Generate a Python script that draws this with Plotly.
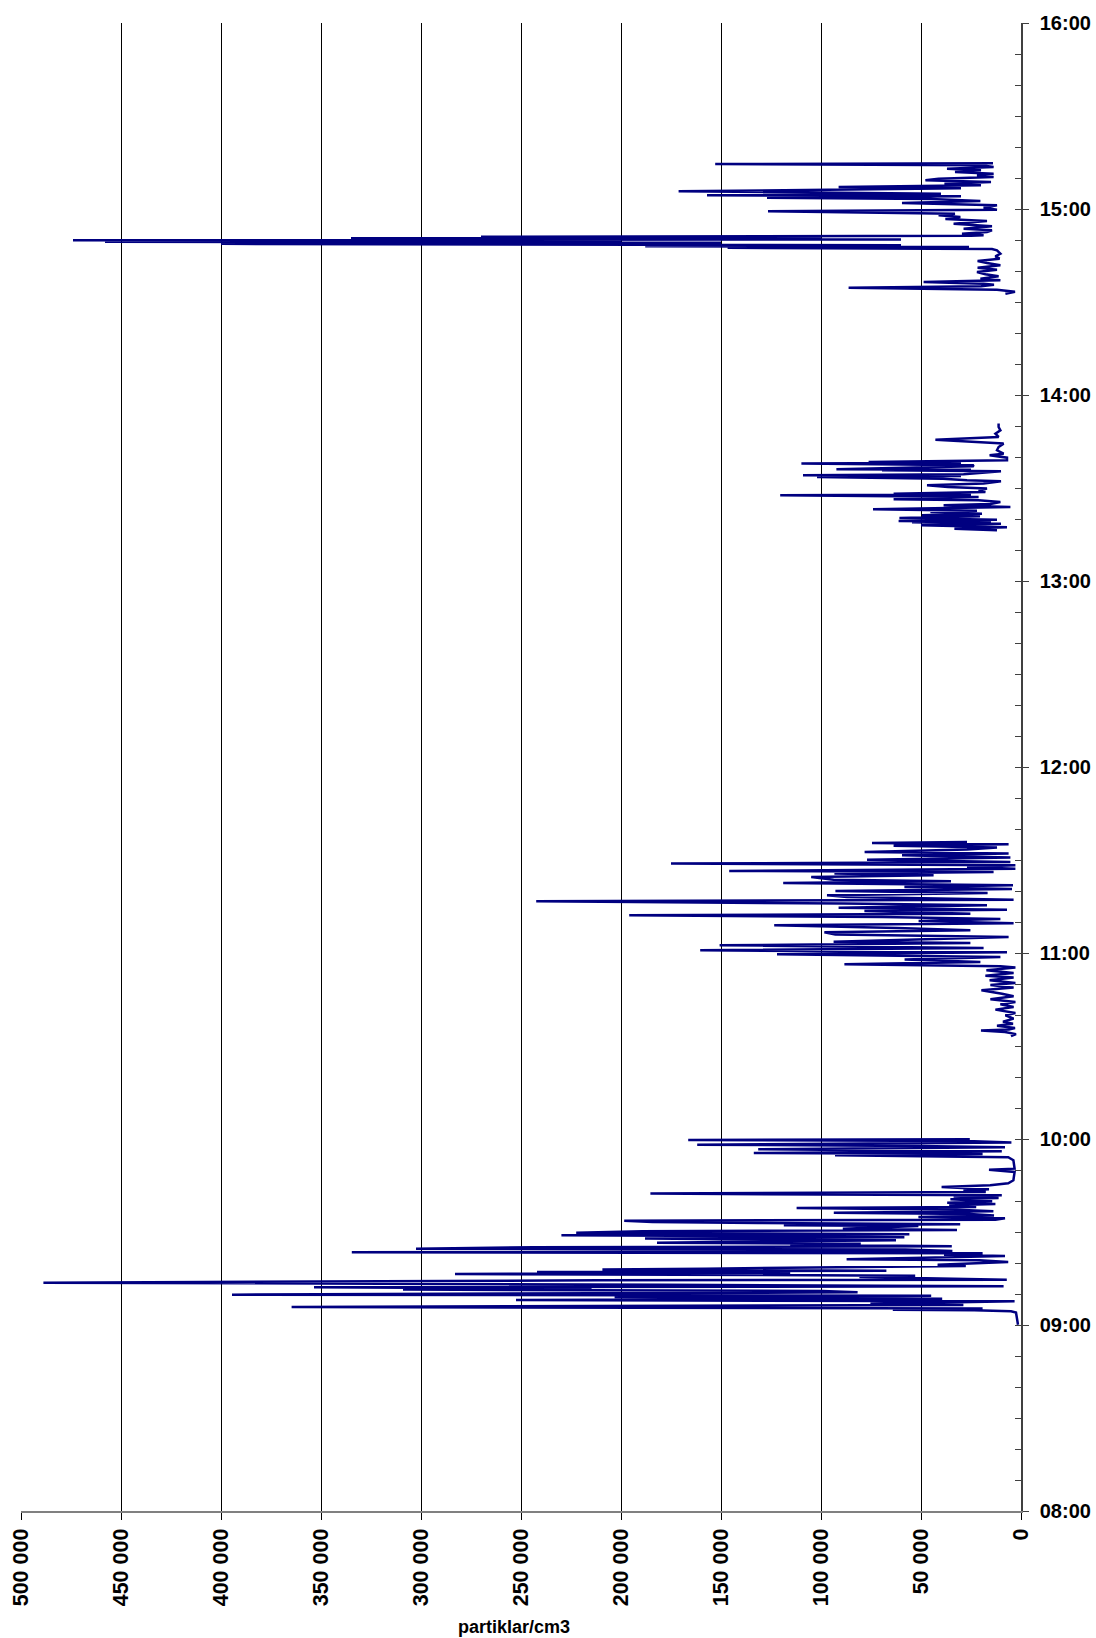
import plotly.graph_objects as go

DAY = "2000-01-01 "

# Particle concentration (partiklar/cm3), (time, value)
seg_0900 = [
    ("09:00:05", 1500), ("09:04:00", 2500), ("09:04:24", 5000), ("09:04:44", 23400),
    ("09:04:57", 64100), ("09:05:17", 19200), ("09:05:49", 364700), ("09:06:08", 110600),
    ("09:06:28", 28800), ("09:06:53", 75300), ("09:07:13", 38500), ("09:07:38", 3200),
    ("09:08:04", 252500), ("09:08:30", 39400), ("09:09:02", 203200), ("09:09:28", 44900),
    ("09:09:47", 394500), ("09:10:13", 239700), ("09:10:33", 81700), ("09:10:59", 99400),
    ("09:11:25", 309000), ("09:11:44", 214700), ("09:12:10", 353500), ("09:12:29", 8700),
    ("09:13:01", 179500), ("09:13:40", 488800), ("09:14:06", 326600), ("09:14:25", 211500),
    ("09:14:38", 7100), ("09:15:10", 52900), ("09:15:29", 80800), ("09:15:55", 52900),
    ("09:16:28", 283000), ("09:16:47", 115400), ("09:17:07", 242000), ("09:17:32", 67300),
    ("09:17:52", 209300), ("09:18:11", 158000), ("09:18:37", 82000), ("09:19:02", 27600),
    ("09:19:28", 41700), ("09:19:54", 27200), ("09:20:20", 6400), ("09:20:52", 20800),
    ("09:21:11", 87200), ("09:21:44", 48700), ("09:22:16", 8000), ("09:22:42", 38500),
    ("09:23:08", 19200), ("09:23:27", 334600), ("09:23:53", 34300), ("09:24:19", 57700),
    ("09:24:38", 302500), ("09:25:04", 243600), ("09:25:23", 34600), ("09:25:55", 115400),
    ("09:26:15", 80100), ("09:26:34", 182000), ("09:27:00", 83300), ("09:27:19", 62500),
    ("09:27:52", 188000), ("09:28:17", 58300), ("09:28:43", 147400), ("09:28:56", 229800),
    ("09:29:16", 55800), ("09:29:47", 222400), ("09:30:14", 189400), ("09:30:39", 32000),
    ("09:31:05", 89100), ("09:31:37", 67300), ("09:31:58", 51300), ("09:32:10", 118600),
    ("09:32:29", 30400), ("09:32:55", 131400), ("09:33:14", 184300), ("09:33:40", 198400),
    ("09:33:59", 12800), ("09:34:25", 8000), ("09:34:51", 51300), ("09:35:17", 13500),
    ("09:35:49", 25600), ("09:36:15", 93600), ("09:36:41", 13800), ("09:37:13", 32000),
    ("09:37:45", 112200), ("09:38:05", 22400), ("09:38:37", 35900), ("09:39:02", 12800),
    ("09:39:28", 36900), ("09:39:54", 14400), ("09:40:33", 35300), ("09:40:59", 11200),
    ("09:41:25", 33700), ("09:41:50", 9600), ("09:42:23", 185300), ("09:42:55", 17600),
    ("09:43:20", 28800), ("09:43:46", 16000), ("09:44:32", 39700), ("09:45:04", 15400),
    ("09:45:43", 6400), ("09:46:41", 3800), ("09:49:22", 3200), ("09:50:07", 16000),
    ("09:50:26", 3200), ("09:53:08", 3800), ("09:54:06", 6400), ("09:54:44", 93000),
    ("09:55:10", 19200), ("09:55:30", 133600), ("09:56:02", 9600), ("09:56:41", 131400),
    ("09:57:19", 8000), ("09:57:45", 51300), ("09:58:11", 161900), ("09:58:50", 4800),
    ("09:59:22", 27200), ("09:59:41", 166400), ("09:59:54", 25600),
]

seg_1033 = [
    ("10:33:10", 5000), ("10:33:50", 2500), ("10:34:30", 8000), ("10:35:00", 20000),
    ("10:35:20", 6000), ("10:35:50", 3000), ("10:36:30", 12000), ("10:37:10", 4000),
    ("10:37:50", 9000), ("10:38:50", 3700), ("10:39:55", 7800), ("10:40:40", 2800),
    ("10:41:44", 12800), ("10:42:35", 3700), ("10:43:27", 10300), ("10:44:13", 2800),
    ("10:45:04", 15300), ("10:46:02", 3700), ("10:46:53", 9500), ("10:47:58", 19800),
    ("10:48:50", 3700), ("10:49:41", 15300), ("10:50:20", 2800), ("10:51:12", 15700),
    ("10:52:04", 3700), ("10:52:42", 17800), ("10:53:34", 3700), ("10:54:25", 17300),
    ("10:55:17", 2800), ("10:55:43", 10300), ("10:56:22", 88300), ("10:57:07", 20300),
    ("10:57:52", 58200), ("10:58:43", 10300), ("10:59:35", 122000), ("11:00:14", 7000),
    ("11:00:52", 160400), ("11:01:38", 18700), ("11:02:29", 150700), ("11:03:14", 25300),
    ("11:03:40", 93700), ("11:04:25", 43700), ("11:05:10", 6200), ("11:05:56", 92800),
    ("11:06:41", 98300), ("11:07:19", 25300), ("11:08:05", 62000), ("11:08:56", 123400),
    ("11:09:35", 3700), ("11:10:20", 51200), ("11:10:59", 10300), ("11:11:38", 69500),
    ("11:12:10", 195900), ("11:12:42", 25300), ("11:13:34", 78300), ("11:13:59", 7000),
    ("11:14:38", 91200), ("11:15:23", 17000), ("11:15:56", 88700), ("11:16:41", 242400),
    ("11:17:13", 3700), ("11:18:05", 87000), ("11:18:37", 97000), ("11:19:22", 16700),
    ("11:20:01", 92800), ("11:20:40", 4500), ("11:21:18", 58300), ("11:21:50", 4000),
    ("11:22:35", 118900), ("11:23:08", 35000), ("11:23:40", 93700), ("11:24:32", 104900),
    ("11:25:04", 43700), ("11:25:37", 93300), ("11:26:08", 13700), ("11:26:28", 145900),
    ("11:27:13", 2800), ("11:27:46", 27000), ("11:28:17", 2800), ("11:28:50", 175000),
    ("11:29:22", 5300), ("11:30:07", 77000), ("11:30:46", 5300), ("11:31:31", 59500),
    ("11:32:04", 6200), ("11:32:35", 78200), ("11:33:21", 27000), ("11:34:00", 12000),
    ("11:34:38", 63700), ("11:35:04", 6200), ("11:35:30", 74500), ("11:35:49", 27000),
]

seg_1316 = [
    ("13:16:21", 12000), ("13:16:53", 33300), ("13:17:19", 7000), ("13:17:58", 50000),
    ("13:18:30", 10000), ("13:18:56", 54500), ("13:19:09", 15000), ("13:19:22", 61200),
    ("13:19:47", 12000), ("13:20:20", 60800), ("13:20:52", 20500), ("13:21:11", 49500),
    ("13:21:44", 19500), ("13:22:16", 45300), ("13:22:42", 22000), ("13:23:08", 74000),
    ("13:23:53", 5300), ("13:24:25", 38700), ("13:24:51", 15300), ("13:25:29", 10300),
    ("13:26:02", 21200), ("13:26:21", 63700), ("13:27:07", 21200), ("13:27:39", 120400),
    ("13:27:55", 25000), ("13:28:11", 63700), ("13:28:43", 17800), ("13:29:16", 21200),
    ("13:29:48", 17000), ("13:30:20", 36500), ("13:30:52", 47000), ("13:31:25", 18700),
    ("13:32:10", 10000), ("13:32:29", 27000), ("13:33:01", 39000), ("13:33:34", 102000),
    ("13:33:50", 30000), ("13:34:06", 109000), ("13:34:25", 28700), ("13:35:23", 10000),
    ("13:35:43", 69500), ("13:35:52", 25000), ("13:36:02", 92300), ("13:37:00", 23700),
    ("13:37:19", 24000), ("13:37:52", 109800), ("13:38:08", 30000), ("13:38:24", 76200),
    ("13:38:56", 7000), ("13:39:47", 7000), ("13:40:33", 15700), ("13:41:05", 8700),
    ("13:42:10", 12000), ("13:43:14", 11200), ("13:44:19", 8700), ("13:45:36", 42800),
    ("13:46:28", 11200), ("13:47:32", 12800), ("13:48:37", 10300), ("13:49:41", 11200),
    ("13:50:46", 11200),
]

seg_1432 = [
    ("14:32:41", 7800), ("14:33:20", 3000), ("14:33:59", 12000), ("14:34:38", 86200),
    ("14:35:04", 20000), ("14:35:36", 13500), ("14:35:55", 18700), ("14:36:28", 48700),
    ("14:36:59", 10300), ("14:37:32", 20300), ("14:38:17", 11200), ("14:38:56", 17800),
    ("14:39:41", 22000), ("14:40:26", 12000), ("14:41:05", 21700), ("14:41:50", 10300),
    ("14:42:35", 17000), ("14:43:14", 21700), ("14:43:59", 10700), ("14:44:44", 12800),
    ("14:45:36", 10300), ("14:46:40", 12000), ("14:47:06", 14500), ("14:47:30", 146700),
    ("14:47:44", 26000), ("14:48:00", 187900), ("14:48:17", 60000), ("14:48:46", 400000),
    ("14:49:05", 150000), ("14:49:25", 458000), ("14:49:40", 200000), ("14:49:54", 474000),
    ("14:50:10", 60000), ("14:50:33", 335000), ("14:50:45", 100000), ("14:51:02", 270000),
    ("14:51:20", 25000), ("14:51:31", 18700), ("14:52:03", 29500), ("14:52:35", 17000),
    ("14:53:07", 14500), ("14:53:40", 28700), ("14:54:25", 14500), ("14:55:16", 33700),
    ("14:56:08", 17000), ("14:56:47", 37800), ("14:57:25", 30300), ("14:57:58", 41200),
    ("14:58:30", 33000), ("14:59:15", 126500), ("14:59:47", 12000), ("15:00:26", 18700),
    ("15:01:11", 12000), ("15:01:56", 59500), ("15:02:35", 20300), ("15:03:14", 45000),
    ("15:03:40", 127000), ("15:04:05", 30000), ("15:04:25", 157000), ("15:04:57", 40000),
    ("15:05:42", 171200), ("15:06:14", 104800), ("15:06:40", 30000), ("15:07:06", 91200),
    ("15:07:38", 20000), ("15:08:11", 38300), ("15:08:43", 15000), ("15:09:15", 47800),
    ("15:09:47", 41200), ("15:10:20", 13700), ("15:10:52", 22000), ("15:11:24", 13700),
    ("15:11:56", 33000), ("15:12:29", 20000), ("15:13:01", 37000), ("15:13:33", 13700),
    ("15:14:05", 20000), ("15:14:30", 152900), ("15:14:45", 14000),
]

x_tick_values = [0, 50000, 100000, 150000, 200000, 250000, 300000, 350000, 400000, 450000, 500000]
x_tick_labels = ["0", "50 000", "100 000", "150 000", "200 000", "250 000",
                 "300 000", "350 000", "400 000", "450 000", "500 000"]
y_tick_labels = ["08:00", "09:00", "10:00", "11:00", "12:00", "13:00", "14:00", "15:00", "16:00"]
x_title = "partiklar/cm3"

LINE_COLOR = "#000080"
FONT = "Liberation Sans, Arial, sans-serif"

xs, ys = [], []
for seg in [seg_0900, seg_1033, seg_1316, seg_1432]:
    for t, v in seg:
        ys.append(DAY + t)
        xs.append(v)
    ys.append(None)
    xs.append(None)

fig = go.Figure()
fig.add_trace(go.Scatter(x=xs, y=ys, mode="lines", connectgaps=False,
                         line=dict(color=LINE_COLOR, width=2.5), hoverinfo="skip",
                         showlegend=False))
# helper trace for minor (inside) time ticks
fig.add_trace(go.Scatter(x=[None], y=[None], yaxis="y2", mode="lines",
                         showlegend=False, hoverinfo="skip"))

y_range = [DAY + y_tick_labels[0], DAY + y_tick_labels[-1]]

fig.update_layout(
    width=1096, height=1638,
    margin=dict(l=21, r=75, t=23, b=127, autoexpand=False),
    paper_bgcolor="white", plot_bgcolor="white",
    font=dict(family=FONT, size=20, color="black"),
    showlegend=False,
    xaxis=dict(
        range=[500000, 0], autorange=False,
        tickmode="array", tickvals=x_tick_values, ticktext=x_tick_labels,
        tickangle=-90, tickfont=dict(family=FONT, size=21.5, weight="bold", color="black"),
        ticks="outside", ticklen=7, tickwidth=1, tickcolor="black",
        ticklabelstandoff=0,
        showgrid=True, gridcolor="black", gridwidth=1,
        showline=True, linecolor="#808080", linewidth=2,
        zeroline=False,
    ),
    yaxis=dict(
        type="date", range=y_range, autorange=False, side="right",
        tickmode="array", tickvals=[DAY + t for t in y_tick_labels], ticktext=y_tick_labels,
        tickfont=dict(family=FONT, size=20, weight="bold", color="black"),
        ticks="outside", ticklen=6, tickwidth=1, tickcolor="#404040",
        ticklabelstandoff=7,
        showgrid=False, zeroline=False,
        showline=True, linecolor="#404040", linewidth=1.5,
    ),
    yaxis2=dict(
        type="date", range=y_range, autorange=False, overlaying="y", side="right",
        anchor="x", tick0=DAY + y_tick_labels[0], dtick=600000,
        ticks="inside", ticklen=6, tickwidth=1, tickcolor="#404040",
        showticklabels=False, showgrid=False, zeroline=False, showline=False,
    ),
    annotations=[dict(
        text=x_title, xref="paper", yref="paper", x=0.493, y=-0.078,
        xanchor="center", yanchor="middle", showarrow=False,
        font=dict(family=FONT, size=18, weight="bold", color="black"),
    )],
)

fig.write_html(
    "out.html",
    config={"displayModeBar": False},
    post_script="document.body.style.margin='0';document.body.style.overflow='hidden';",
)
